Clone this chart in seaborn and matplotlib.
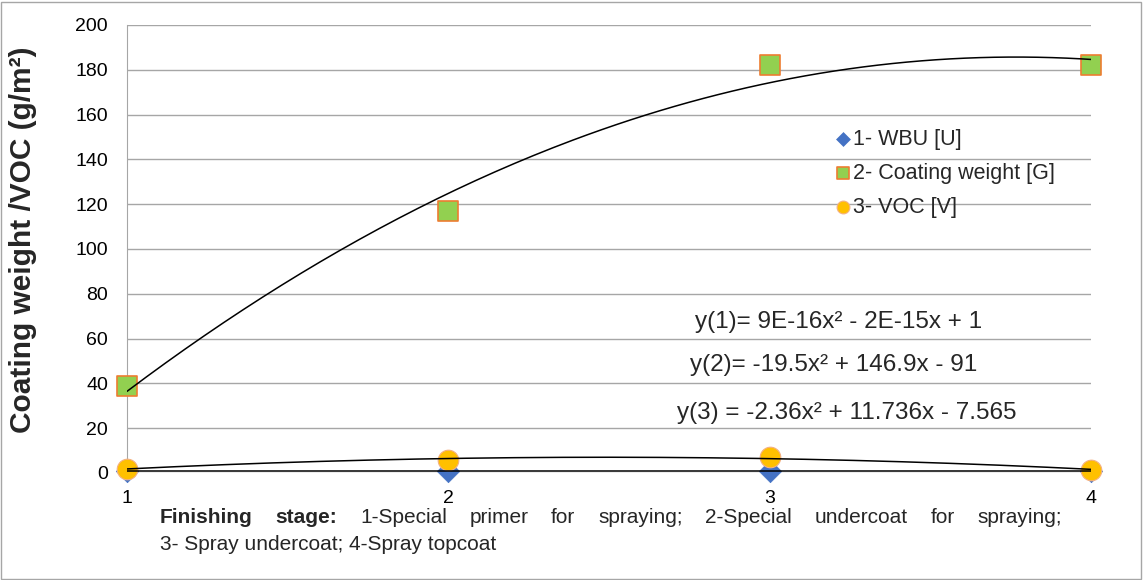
import numpy as np
import matplotlib
matplotlib.use("Agg")
import matplotlib.pyplot as plt
import matplotlib.patches as patches
import seaborn as sns

# values
stages = [1, 2, 3, 4]
wbu = [1, 1, 1, 1]
coating = [39, 117, 182, 182]
voc = [1.97, 5.95, 6.92, 1.46]

series_labels = ['1- WBU [U]', '2- Coating weight [G]', '3- VOC [V]']
equations = ['y(1)= 9E-16x² - 2E-15x + 1',
             'y(2)= -19.5x² + 146.9x - 91',
             'y(3) = -2.36x² + 11.736x - 7.565']
y_ticks = [0, 20, 40, 60, 80, 100, 120, 140, 160, 180, 200]
caption_bold = ['Finishing', 'stage:']
caption_line1 = '1-Special primer for spraying; 2-Special undercoat for spraying;'
caption_line2 = '3- Spray undercoat; 4-Spray topcoat'

sns.set_style('white')
plt.rcParams['font.family'] = ['Liberation Sans', 'DejaVu Sans']

W, H = 1143, 580
fig = plt.figure(figsize=(W / 100, H / 100), dpi=100)
ax = fig.add_axes([0.111, 0.1845, 0.8435, 0.7725])

grid_col = '#A6A6A6'

# markers
sns.scatterplot(x=stages, y=wbu, marker='D', s=130, color='#4472C4',
                edgecolor='#4472C4', linewidth=0.5, label=series_labels[0],
                ax=ax, zorder=3, clip_on=False)
sns.scatterplot(x=stages, y=coating, marker='s', s=190, color='#92D050',
                edgecolor='#ED7D31', linewidth=1.2, label=series_labels[1],
                ax=ax, zorder=3, clip_on=False)
sns.scatterplot(x=stages, y=voc, marker='o', s=220, color='#FFC000',
                edgecolor='#F4B183', linewidth=0.8, label=series_labels[2],
                ax=ax, zorder=3, clip_on=False)

# polynomial trend lines (order 2)
xs = np.linspace(1, 4, 200)
for ys in (wbu, coating, voc):
    coef = np.polyfit(stages, ys, 2)
    sns.lineplot(x=xs, y=np.polyval(coef, xs), color='black', linewidth=1.1,
                 ax=ax, zorder=4, legend=False)

ax.set_xlim(1, 4)
ax.set_ylim(0, 200)
ax.set_xticks(stages)
ax.set_yticks(y_ticks)
ax.yaxis.grid(True, color=grid_col, linewidth=1)
ax.set_axisbelow(True)
for side in ['top', 'right', 'bottom']:
    ax.spines[side].set_visible(False)
ax.spines['left'].set_color(grid_col)
ax.tick_params(axis='both', length=0, labelsize=14, colors='black')
ax.tick_params(axis='y', pad=13.5)
ax.tick_params(axis='x', pad=12)

ax.set_ylabel('Coating weight /VOC (g/m²)', fontsize=21.5, fontweight='bold')
ax.yaxis.set_label_coords(-0.093, 0.52)
ax.set_xlabel('')

# equations
ax.text(2.768, 67.4, equations[0], fontsize=17.5, va='center')
ax.text(2.753, 48.2, equations[1], fontsize=17.5, va='center')
ax.text(2.712, 26.8, equations[2], fontsize=17.5, va='center')

ax.legend(loc='center left', bbox_to_anchor=(0.736, 0.669), frameon=False,
          fontsize=15.5, markerscale=0.62, handlelength=0.6,
          handletextpad=0.15, labelspacing=0.6, borderaxespad=0,
          borderpad=0)

# x axis caption, first line justified between x=160 and x=1062 px
fig.canvas.draw()
renderer = fig.canvas.get_renderer()
words = [(w, 'bold') for w in caption_bold] + \
        [(w, 'normal') for w in caption_line1.split()]
cap_size = 15
items = []
for w, weight in words:
    t = fig.text(0, 0, w, fontsize=cap_size, fontweight=weight)
    items.append((t, t.get_window_extent(renderer).width))
left_px, right_px = 160, 1062
gap = (right_px - left_px - sum(wd for _, wd in items)) / (len(items) - 1)
x_px = left_px
for t, wd in items:
    t.set_position((x_px / W, 1 - 523 / H))
    x_px += wd + gap
fig.text(left_px / W, 1 - 550 / H, caption_line2, fontsize=cap_size)

# chart-area border
fig.patches.append(patches.Rectangle((0.001, 0.002), 0.997, 0.995,
                                     transform=fig.transFigure, fill=False,
                                     edgecolor='#A6A6A6', linewidth=1))

fig.savefig('out.png', dpi=100)
